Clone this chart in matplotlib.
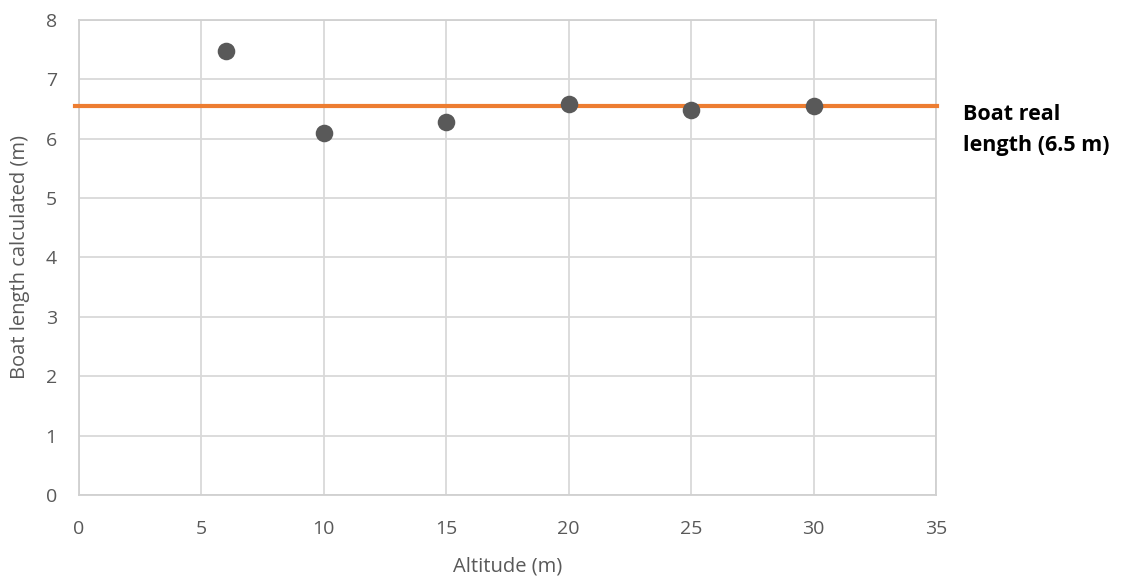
import matplotlib.pyplot as plt

# measured boat length for each flight altitude
altitude = [6, 10, 15, 20, 25, 30]
boat_length = [7.47, 6.09, 6.28, 6.58, 6.48, 6.55]
real_length = 6.55  # drawn reference line
x_ticks = [0, 5, 10, 15, 20, 25, 30, 35]
y_ticks = [0, 1, 2, 3, 4, 5, 6, 7, 8]

plt.rcParams["font.family"] = ["Open Sans", "DejaVu Sans"]

fig = plt.figure(figsize=(11.24, 5.81), dpi=100)
ax = fig.add_axes([0.0703, 0.148, 0.7624, 0.8176])

ax.set_xlim(0, 35)
ax.set_ylim(0, 8)
ax.set_xticks(x_ticks)
ax.set_yticks(y_ticks)
ax.grid(True, color="#d9d9d9", linewidth=1.3)
ax.set_axisbelow(True)
for s in ax.spines.values():
    s.set_color("#d0d0d0")
    s.set_linewidth(1.3)
ax.tick_params(length=0, labelsize=14, colors="#595959")
ax.tick_params(axis="x", pad=18)
ax.tick_params(axis="y", pad=16)

ax.axhline(real_length, xmin=-0.005, xmax=1.001, color="#ED7D31",
           linewidth=3, clip_on=False, zorder=3)
ax.scatter(altitude, boat_length, s=160, color="#595959", zorder=4, linewidths=0)

ax.set_xlabel("Altitude (m)", fontsize=14.5, color="#595959", labelpad=13)
ax.set_ylabel("Boat length calculated (m)", fontsize=14.5, color="#595959", labelpad=11)

fig.text(0.857, 0.776, "Boat real\nlength (6.5 m)", fontsize=15.5, fontweight="bold",
         color="black", va="center", ha="left", linespacing=1.6)

fig.savefig("out.png", dpi=100)
